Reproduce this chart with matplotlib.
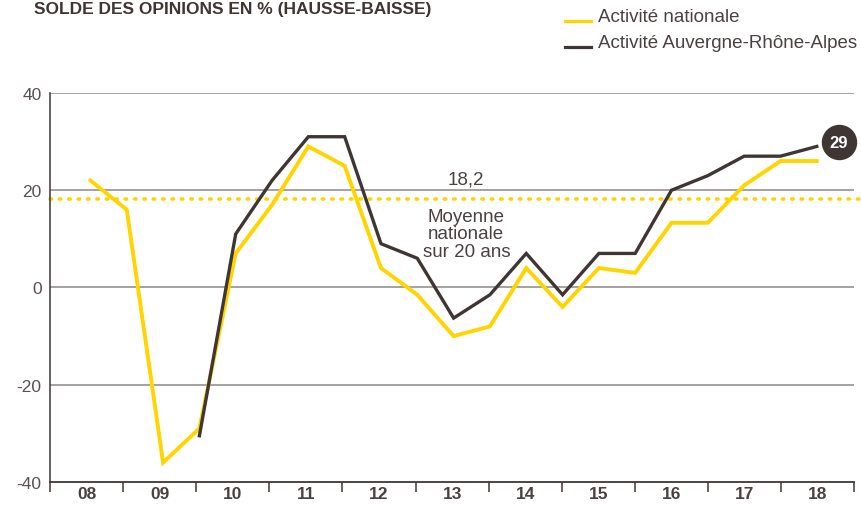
import numpy as np
import matplotlib as mpl
import matplotlib.pyplot as plt
from matplotlib.lines import Line2D
from matplotlib.ticker import FixedLocator, NullFormatter

mpl.rcParams["font.family"] = ["Liberation Sans", "DejaVu Sans"]

# data: half-year readings, 2008 -> 2018
years = ["08", "09", "10", "11", "12", "13", "14", "15", "16", "17", "18"]
nationale = [22, 16, -36, -29, 7, 17, 29, 25, 4, -1.5, -10,
             -8, 4, -4, 4, 3, 13.3, 13.3, 21, 26, 26]
aura = [np.nan, np.nan, np.nan, -30.5, 11, 22, 31, 31, 9, 6, -6.3,
        -1.5, 7, -1.5, 7, 7, 20, 23, 27, 27, 29]
moyenne = 18.2
last_aura = 29

YELLOW = "#ffd500"
BROWN = "#3f3634"
GRID = "#8c8786"
TXT = "#4a4141"

fig = plt.figure(figsize=(8.61, 5.06), dpi=100)
ax = fig.add_axes([0.0581, 0.0455, 0.934, 0.7688])

k = np.arange(len(nationale))
x0, x1 = -1.113, 21.03
ax.set_xlim(x0, x1)
ax.set_ylim(-40, 40)

# grid
for v in [40, 20, 0, -20]:
    ax.axhline(v, color=GRID, lw=1.1, zorder=1)
ax.axhline(moyenne, xmin=0, xmax=1.006, color=YELLOW, lw=2.6,
           ls=(0, (0.4, 2.2)), dash_capstyle="round", clip_on=False, zorder=2)

ax.plot(k, nationale, color=YELLOW, lw=2.8, zorder=3, solid_joinstyle="miter")
ax.plot(k, aura, color=BROWN, lw=2.4, zorder=4, solid_joinstyle="miter")

# ticks
step = (x1 - x0) / len(years)
bounds = [x0 + step * j for j in range(len(years) + 1)]
centers = [x0 + step * (j + 0.5) for j in range(len(years))]
ax.xaxis.set_minor_locator(FixedLocator(bounds))
ax.xaxis.set_minor_formatter(NullFormatter())
ax.set_xticks(centers)
ax.set_xticklabels(years, fontweight="bold", fontsize=12.5, color=TXT)
ax.tick_params(axis="x", which="major", length=0, pad=3)
ax.tick_params(axis="x", which="minor", length=7, width=1.1, color=BROWN)
ax.set_yticks([40, 20, 0, -20, -40])
ax.set_yticklabels(["40", "20", "0", "-20", "-40"], fontsize=12.5, color="#5a5050")
ax.tick_params(axis="y", length=0, pad=6)

for s in ["top", "right"]:
    ax.spines[s].set_visible(False)
ax.spines["left"].set_color(BROWN)
ax.spines["left"].set_linewidth(1.1)
ax.spines["bottom"].set_color(BROWN)
ax.spines["bottom"].set_linewidth(1.3)

# annotations
ax.text(10.35, 20.5, "18,2", ha="center", va="bottom", fontsize=13.5, color=TXT)
ax.text(10.35, 16.3, "Moyenne\nnationale\nsur 20 ans", ha="center", va="top",
        fontsize=13.5, color=TXT, linespacing=1.02)
ax.scatter([20.6], [last_aura + 0.9], s=600, color=BROWN, zorder=5, clip_on=False)
ax.text(20.6, last_aura + 0.9, str(last_aura), ha="center", va="center",
        fontsize=12, fontweight="bold", color="white", zorder=6)

# title, right at the top edge
fig.text(0.04, 1 - 14 / 506, "SOLDE DES OPINIONS EN % (HAUSSE-BAISSE)",
         fontweight="bold", fontsize=12.5, color=BROWN, va="baseline")

# legend
for y, c, lab in [(22, YELLOW, "Activité nationale"),
                  (48, BROWN, "Activité Auvergne-Rhône-Alpes")]:
    fig.add_artist(Line2D([565 / 861, 591 / 861], [1 - y / 506, 1 - y / 506],
                          color=c, lw=2.3, transform=fig.transFigure))
    fig.text(598 / 861, 1 - (y - 5) / 506, lab, fontsize=13.5, color=TXT,
             va="center")

fig.savefig("out.png", dpi=100)
